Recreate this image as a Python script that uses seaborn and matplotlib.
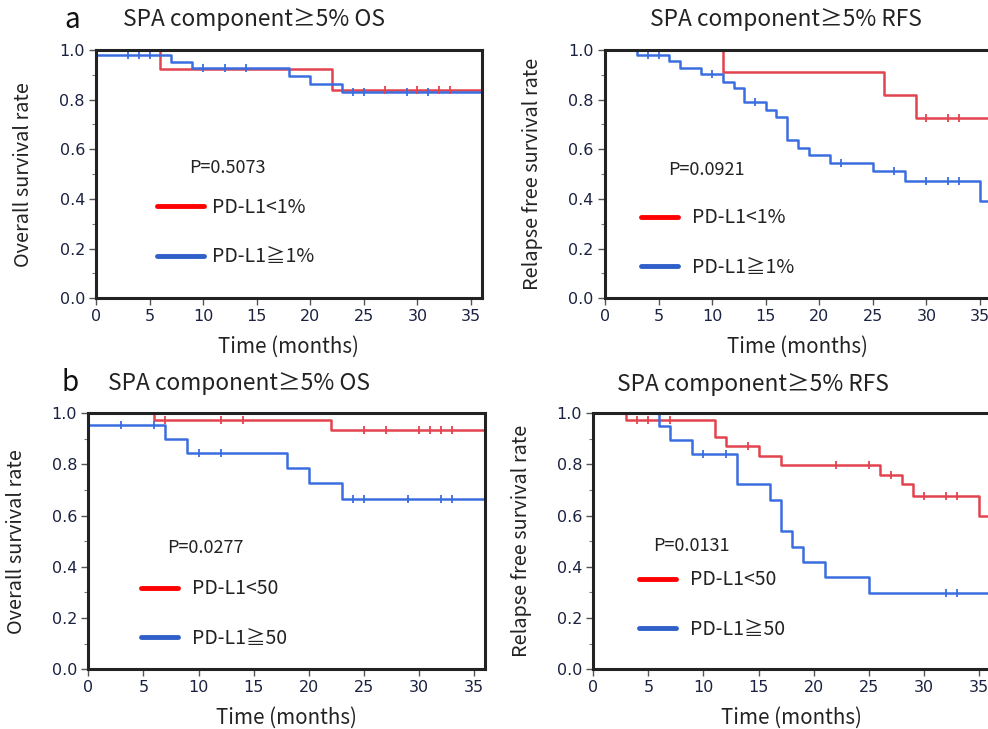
import numpy as np
import matplotlib
matplotlib.use("Agg")
import matplotlib.pyplot as plt
import seaborn as sns
from matplotlib.lines import Line2D
from matplotlib.ticker import MultipleLocator

# --- data (months, survival) ---

# a: OS, PD-L1 <1% vs >=1%
a_os_red_t = [0, 6, 22]
a_os_red_s = [1.0, 0.923, 0.839]
a_os_red_cens = [27, 30, 32, 33]
a_os_blue_t = [0, 7, 9, 18, 20, 23]
a_os_blue_s = [0.98, 0.952, 0.926, 0.894, 0.863, 0.829]
a_os_blue_cens = [3, 4, 5, 10, 12, 14, 24, 25, 29, 31]

# a: RFS
a_rfs_red_t = [0, 11, 26, 29]
a_rfs_red_s = [1.0, 0.910, 0.819, 0.727]
a_rfs_red_cens = [30, 32, 33]
a_rfs_blue_t = [0, 3, 6, 7, 9, 11, 12, 13, 15, 16, 17, 18, 19, 21, 25, 28, 35]
a_rfs_blue_s = [1.0, 0.981, 0.956, 0.927, 0.903, 0.872, 0.845, 0.789, 0.758,
                0.729, 0.637, 0.606, 0.577, 0.546, 0.513, 0.472, 0.39]
a_rfs_blue_cens = [4, 5, 10, 14, 22, 27, 30, 32, 33]

# b: OS, PD-L1 <50 vs >=50
b_os_red_t = [0, 6, 22]
b_os_red_s = [1.0, 0.974, 0.935]
b_os_red_cens = [7, 12, 14, 25, 27, 30, 31, 32, 33]
b_os_blue_t = [0, 7, 9, 18, 20, 23]
b_os_blue_s = [0.954, 0.90, 0.845, 0.788, 0.726, 0.664]
b_os_blue_cens = [3, 6, 10, 12, 24, 25, 29, 32, 33]

# b: RFS
b_rfs_red_t = [0, 3, 11, 12, 15, 17, 26, 28, 29, 35]
b_rfs_red_s = [1.0, 0.974, 0.906, 0.873, 0.834, 0.798, 0.759, 0.724, 0.677, 0.60]
b_rfs_red_cens = [4, 5, 7, 14, 22, 25, 27, 30, 32, 33]
b_rfs_blue_t = [0, 6, 7, 9, 13, 16, 17, 18, 19, 21, 25]
b_rfs_blue_s = [1.0, 0.95, 0.896, 0.841, 0.724, 0.661, 0.54, 0.479, 0.42, 0.359, 0.299]
b_rfs_blue_cens = [10, 12, 32, 33]

p_values = ["P=0.5073", "P=0.0921", "P=0.0277", "P=0.0131"]
labels_a = ["PD-L1<1%", "PD-L1\u22671%"]
labels_b = ["PD-L1<50", "PD-L1\u226750"]
titles = ["SPA component\u22655% OS", "SPA component\u22655% RFS"]

T_MAX = 36
RED = "#e2434f"
BLUE = "#3a6ee0"
TICK_COLOR = "#1b2140"
CJK = ["Noto Sans CJK JP", "DejaVu Sans"]

sns.set_theme(style="ticks")
plt.rcParams["font.family"] = ["DejaVu Sans"]

fig = plt.figure(figsize=(9.88, 7.29), dpi=100)


def km(ax, t, s, cens, color):
    t_full = list(t) + [T_MAX]
    s_full = list(s) + [s[-1]]
    sns.lineplot(x=t_full, y=s_full, drawstyle="steps-post", color=color,
                 lw=1.8, estimator=None, sort=False, ax=ax, zorder=2)
    idx = np.searchsorted(t, cens, side="right") - 1
    cy = np.array(s)[idx]
    sns.scatterplot(x=cens, y=cy, marker="|", s=26, color=color,
                    linewidth=1.3, ax=ax, zorder=3)


def style(ax, ylabel):
    ax.set_xlim(0, T_MAX)
    ax.set_ylim(0, 1.0)
    ax.xaxis.set_major_locator(MultipleLocator(5))
    ax.yaxis.set_major_locator(MultipleLocator(0.2))
    ax.yaxis.set_minor_locator(MultipleLocator(0.1))
    ax.yaxis.set_major_formatter(plt.FormatStrFormatter("%.1f"))
    ax.tick_params(axis="both", which="major", length=5, width=1, color="#555555",
                   labelsize=11.5, labelcolor=TICK_COLOR, pad=3)
    ax.tick_params(axis="y", which="minor", length=3, width=0.8, color="#777777")
    for sp in ax.spines.values():
        sp.set_color("#222222")
        sp.set_linewidth(2.2)
        sp.set_visible(True)
        sp.set_zorder(5)
    ax.set_xlabel("Time (months)", fontsize=14.8, family=CJK, color="#222222", labelpad=8)
    ax.set_ylabel(ylabel, fontsize=14.3, family=CJK, color="#222222", labelpad=18)


def annotate(ax, ptext, px, py, labels, lx, ly, hlen, hpad):
    ax.text(px, py, ptext, transform=ax.transAxes, fontsize=13, family=CJK,
            color="#222222", va="center", ha="left")
    handles = [Line2D([], [], color="#ff0000", lw=3.5),
               Line2D([], [], color="#2f5fc8", lw=3.5)]
    leg = ax.legend(handles, labels, loc="upper left", bbox_to_anchor=(lx, ly),
                    frameon=False, borderpad=0, borderaxespad=0,
                    handlelength=hlen, handletextpad=hpad, labelspacing=1.45,
                    prop={"family": CJK, "size": 14})
    for txt in leg.get_texts():
        txt.set_color("#222222")


# axes positions (figure fractions)
ax_a1 = fig.add_axes([0.0972, 0.5908, 0.3904, 0.3406])
ax_a2 = fig.add_axes([0.6123, 0.5908, 0.3904, 0.3406])
ax_b1 = fig.add_axes([0.0894, 0.0819, 0.4015, 0.3512])
ax_b2 = fig.add_axes([0.6005, 0.0819, 0.4015, 0.3512])

km(ax_a1, a_os_red_t, a_os_red_s, a_os_red_cens, RED)
km(ax_a1, a_os_blue_t, a_os_blue_s, a_os_blue_cens, BLUE)
style(ax_a1, "Overall survival rate")
annotate(ax_a1, p_values[0], 0.241, 0.525, labels_a, 0.158, 0.407, 2.4, 0.45)

km(ax_a2, a_rfs_red_t, a_rfs_red_s, a_rfs_red_cens, RED)
km(ax_a2, a_rfs_blue_t, a_rfs_blue_s, a_rfs_blue_cens, BLUE)
style(ax_a2, "Relapse free survival rate")
annotate(ax_a2, p_values[1], 0.163, 0.517, labels_a, 0.093, 0.366, 1.9, 0.75)

km(ax_b1, b_os_red_t, b_os_red_s, b_os_red_cens, RED)
km(ax_b1, b_os_blue_t, b_os_blue_s, b_os_blue_cens, BLUE)
style(ax_b1, "Overall survival rate")
annotate(ax_b1, p_values[2], 0.198, 0.474, labels_b, 0.133, 0.355, 1.9, 0.7)

km(ax_b2, b_rfs_red_t, b_rfs_red_s, b_rfs_red_cens, RED)
km(ax_b2, b_rfs_blue_t, b_rfs_blue_s, b_rfs_blue_cens, BLUE)
style(ax_b2, "Relapse free survival rate")
annotate(ax_b2, p_values[3], 0.150, 0.482, labels_b, 0.115, 0.39, 1.9, 0.75)

# panel letters and titles
fig.text(0.0650, 0.9726, "a", fontsize=20, family=CJK, color="#111111", va="center")
fig.text(0.1245, 0.9726, titles[0], fontsize=16.4, family=CJK, color="#222222", va="center")
fig.text(0.6580, 0.9726, titles[1], fontsize=16.4, family=CJK, color="#222222", va="center")
fig.text(0.0620, 0.4746, "b", fontsize=20, family=CJK, color="#111111", va="center")
fig.text(0.1093, 0.4746, titles[0], fontsize=16.4, family=CJK, color="#222222", va="center")
fig.text(0.6245, 0.4719, titles[1], fontsize=16.4, family=CJK, color="#222222", va="center")

fig.savefig("out.png", dpi=100)
